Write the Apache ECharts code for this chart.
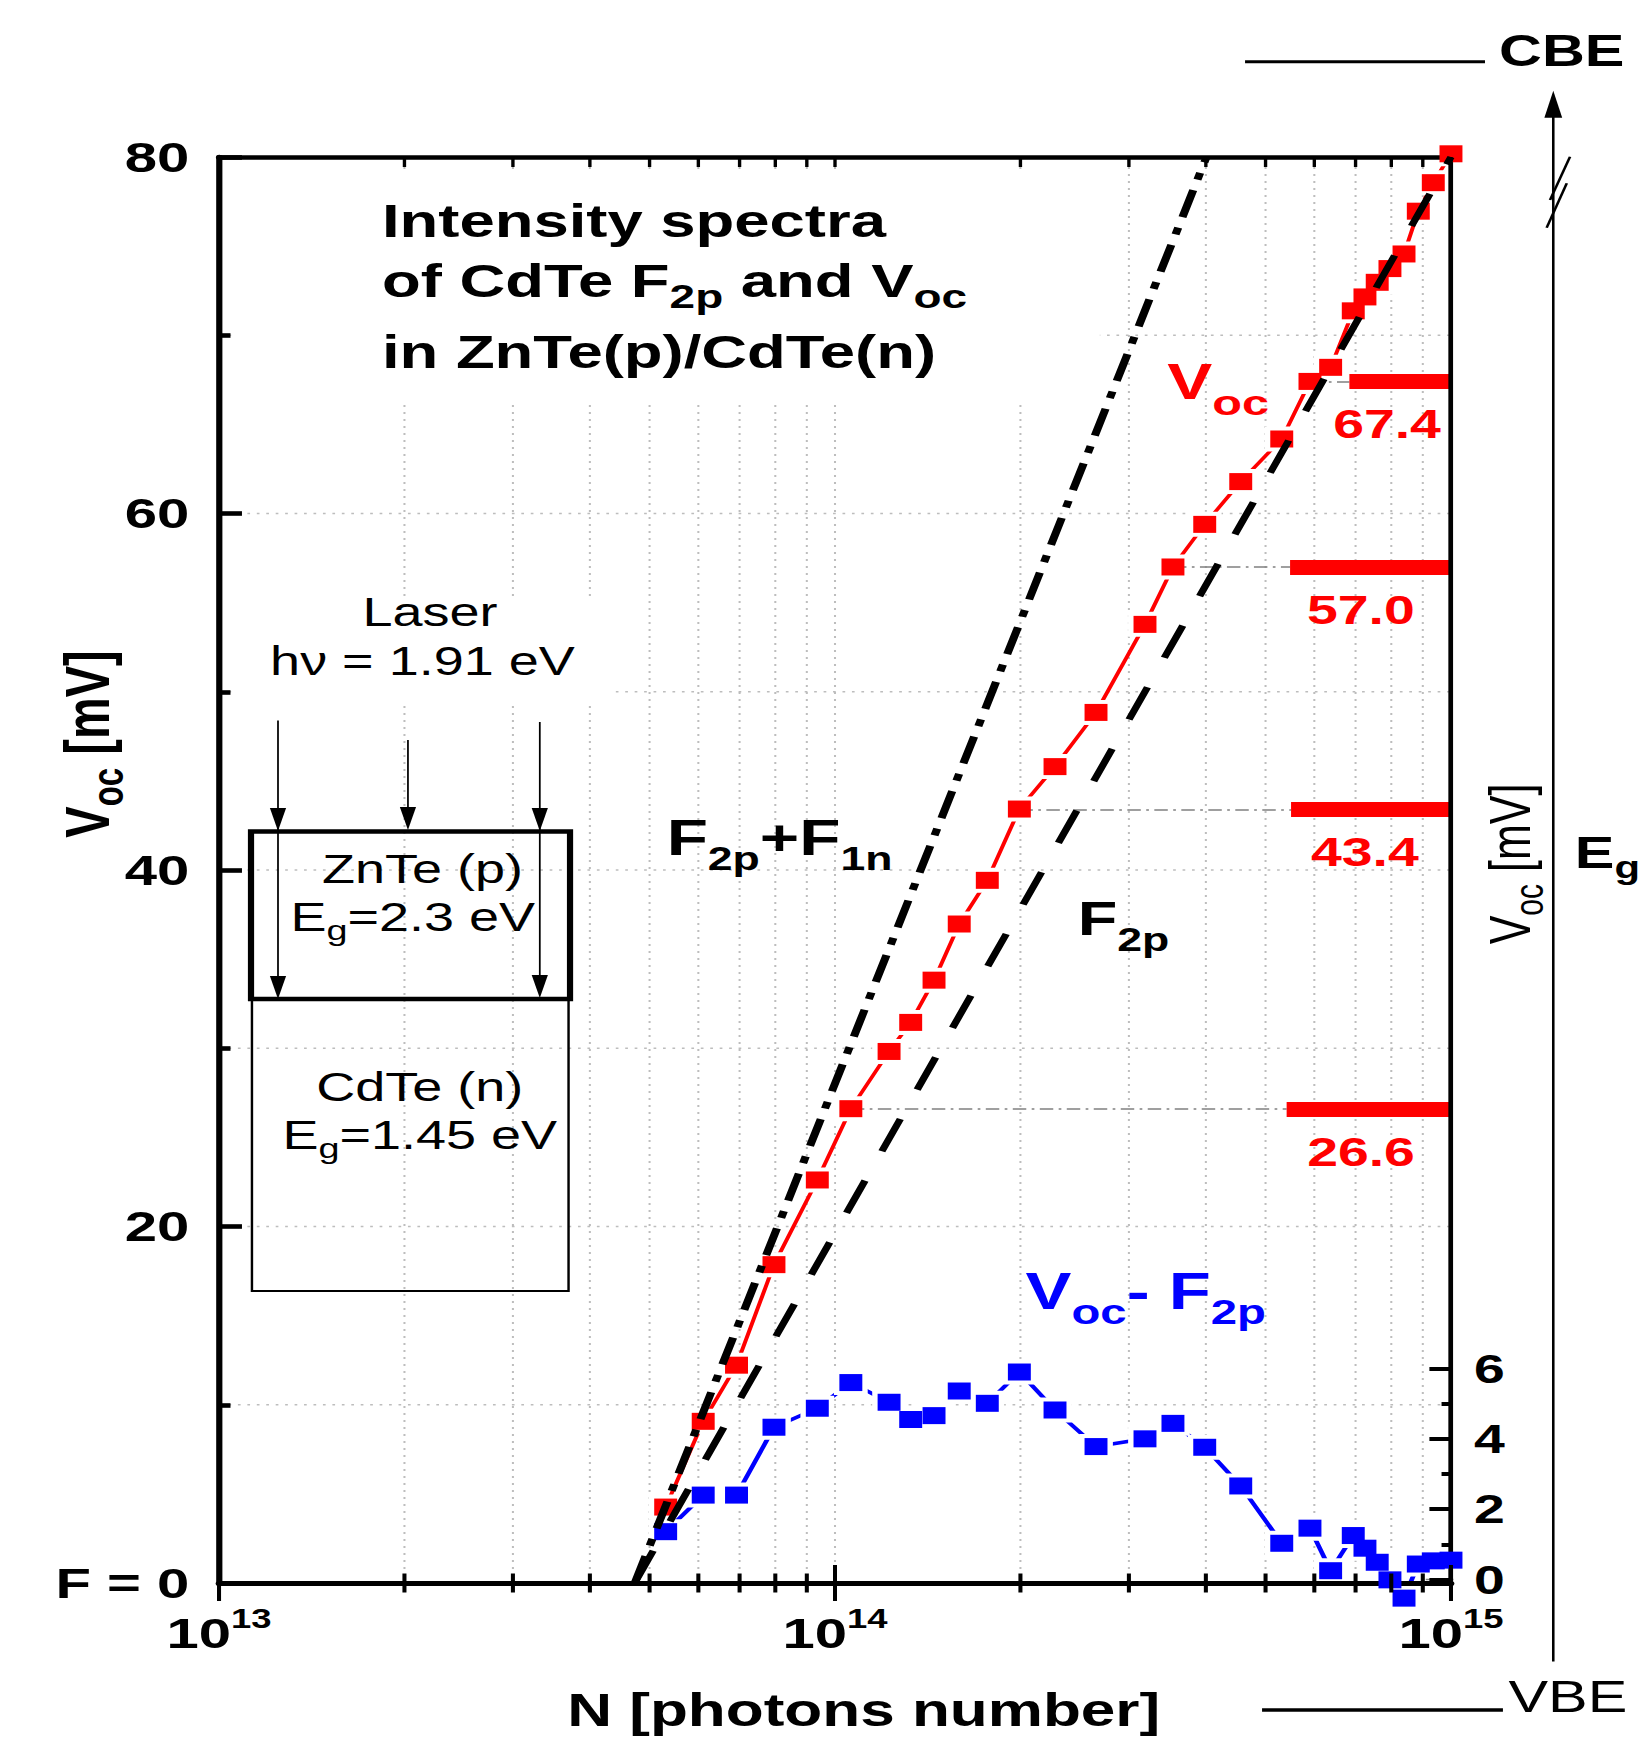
<!DOCTYPE html>
<html>
<head>
<meta charset="utf-8">
<script src="https://cdn.jsdelivr.net/npm/echarts@6/dist/echarts.min.js"></script>
<style>
  html, body { margin: 0; padding: 0; background: #fff; overflow: hidden; }
  /* the source figure is stretched sideways, so draw it narrow and widen it */
  #chart { width: 1216px; height: 1744px; transform: scaleX(1.3495); transform-origin: 0 0; }
</style>
</head>
<body>
<div id="chart"></div>
<script>
// photon number N [photons]
var N = [5.31e13, 6.11e13, 6.92e13, 7.96e13, 9.36e13, 1.061e14, 1.224e14, 1.327e14, 1.448e14, 1.591e14,
         1.767e14, 1.992e14, 2.276e14, 2.653e14, 3.186e14, 3.537e14, 3.983e14, 4.557e14, 5.312e14, 5.903e14,
         6.377e14, 6.94e14, 7.25e14, 7.59e14, 7.96e14, 8.39e14, 8.85e14, 9.36e14, 1.0e15];
// V_oc [mV], left axis
var voc = [4.26, 9.07, 12.22, 17.86, 22.61, 26.61, 29.82, 31.45, 33.82, 36.97,
           39.42, 43.42, 45.80, 48.84, 53.78, 57.00, 59.39, 61.79, 64.18, 67.41,
           68.20, 71.37, 72.15, 72.97, 73.74, 74.56, 76.96, 78.56, 80.18];
// V_oc - F2p [mV], right axis
var vocMinusF2p = [1.36, 2.40, 2.40, 4.33, 4.87, 5.60, 5.04, 4.55, 4.66, 5.36,
                   5.01, 5.90, 4.82, 3.78, 4.00, 4.44, 3.76, 2.66, 1.03, 1.46,
                   0.25, 1.25, 0.89, 0.49, -0.01, -0.53, 0.44, 0.53, 0.55];
// straight lines F2p and F2p+F1n (end points)
var f2pN = [4.73e13, 1e15], f2pV = [0, 80];
var f2pf1nN = [4.73e13, 4.01e14], f2pf1nV = [0, 80];
// marked V_oc levels
var levels = [67.4, 57.0, 43.4, 26.6];
var levelFromN = [5.903e14, 3.537e14, 1.992e14, 1.061e14];
var levelBarN = [6.84e14, 5.48e14, 5.50e14, 5.41e14];
// zero line of the right axis
var zeroN = [9.1e14, 1.4e15], zeroV = [0, 0];
// ticks and grid
var xMajor = [1e13, 1e14, 1e15];
var xMinor = [2e13, 3e13, 4e13, 5e13, 6e13, 7e13, 8e13, 9e13,
              2e14, 3e14, 4e14, 5e14, 6e14, 7e14, 8e14, 9e14];
var yGrid = [10, 20, 30, 40, 50, 60, 70];

// label shift from the bar start (px)
var levelLabelDx = [-12, 12.6, 14.8, 15.2];

var FONT = '"Liberation Sans", Arial, sans-serif';

function subRich(m, s, drop, color, weight) {
  var base = {fontFamily: FONT, fontWeight: weight, fill: color, color: color, verticalAlign: 'top'};
  return {
    n: Object.assign({}, base, {fontSize: m, lineHeight: m}),
    s: Object.assign({}, base, {fontSize: s, lineHeight: s, padding: [drop + 0.85 * (m - s), 0, 0, 0]})
  };
}
function supRich(m, s, rise, color, weight) {
  var base = {fontFamily: FONT, fontWeight: weight, fill: color, color: color, verticalAlign: 'top'};
  return {
    n: Object.assign({}, base, {fontSize: m, lineHeight: m, padding: [rise - 0.85 * (m - s), 0, 0, 0]}),
    s: Object.assign({}, base, {fontSize: s, lineHeight: s})
  };
}
function text(x, baseline, str, m, s, drop, color, weight, align) {
  return {type: 'text', x: x, y: baseline - 0.85 * m, z: 8, silent: true,
    style: {text: str, rich: subRich(m, s, drop, color, weight), align: align || 'left', verticalAlign: 'top'}};
}
function vtext(cx, cy, str, m, s, drop, weight) {
  return {type: 'text', x: cx, y: cy, rotation: Math.PI / 2, z: 8, silent: true,
    style: {text: str, rich: subRich(m, s, drop, '#000', weight), align: 'center', verticalAlign: 'middle'}};
}
function line(x1, y1, x2, y2, w) {
  return {type: 'line', z: 8, silent: true, shape: {x1: x1, y1: y1, x2: x2, y2: y2}, style: {stroke: '#000', lineWidth: w}};
}
// arrow head, len > 0 points down, len < 0 points up
function head(x, tipY, len, half) {
  return {type: 'polygon', z: 8, silent: true, shape: {points: [[x, tipY], [x - half, tipY - len], [x + half, tipY - len]]}, style: {fill: '#000'}};
}

var gridStyle = {stroke: '#bdbdbd', lineWidth: 1.5, lineDash: [2, 5]};

function renderXGrid(params, api) {
  var b = api.coord([api.value(0), 0]), t = api.coord([api.value(0), 80]);
  return {type: 'line', shape: {x1: b[0], y1: b[1], x2: t[0], y2: t[1]}, style: gridStyle};
}
function renderYGrid(params, api) {
  var l = api.coord([1e13, api.value(1)]), r = api.coord([1e15, api.value(1)]);
  return {type: 'line', shape: {x1: l[0], y1: l[1], x2: r[0], y2: r[1]}, style: gridStyle};
}
function renderXTick(params, api) {
  var b = api.coord([api.value(0), 0]), t = api.coord([api.value(0), 80]);
  var len = api.value(1) === 1 ? 18 : 9.5;
  return {type: 'group', children: [
    {type: 'line', shape: {x1: b[0], y1: b[1] - len, x2: b[0], y2: b[1] + len}, style: {stroke: '#000', lineWidth: 3}},
    {type: 'line', shape: {x1: t[0], y1: t[1], x2: t[0], y2: t[1] + 10}, style: {stroke: '#000', lineWidth: 2.5}}
  ]};
}

var chart = echarts.init(document.getElementById('chart'), null, {renderer: 'svg'});

var xTicks = xMajor.map(function (v) { return [v, 1]; }).concat(xMinor.map(function (v) { return [v, 0]; }));
var vocData = N.map(function (n, i) { return [n, voc[i]]; });
var diffData = N.map(function (n, i) { return [n, vocMinusF2p[i]]; });

var option = {
  animation: false,
  backgroundColor: '#fff',
  grid: [
    {left: 162.3, right: 140.8, top: 157, bottom: 161, outerBoundsMode: 'none'},
    {left: 162.3, right: 140.8, top: 1368.5, bottom: 164.5, outerBoundsMode: 'none'}
  ],
  xAxis: [
    {type: 'log', logBase: 10, gridIndex: 0, position: 'bottom', min: 1e13, max: 1e15, z: 7,
     axisLine: {onZero: false, lineStyle: {color: '#000', width: 5}},
     axisTick: {show: false}, splitLine: {show: false},
     axisLabel: {margin: 22, showMinLabel: true, showMaxLabel: true,
       formatter: function (v) { return '{n|10}{s|' + Math.round(Math.log10(v)) + '}'; },
       rich: supRich(43, 27, 20.5, '#000', 'bold')}},
    {type: 'log', logBase: 10, gridIndex: 0, position: 'top', min: 1e13, max: 1e15, z: 7,
     axisLine: {onZero: false, lineStyle: {color: '#000', width: 4.6}},
     axisTick: {show: false}, axisLabel: {show: false}, splitLine: {show: false}},
    {type: 'log', logBase: 10, gridIndex: 1, min: 1e13, max: 1e15, show: false}
  ],
  yAxis: [
    {type: 'value', gridIndex: 0, position: 'left', min: 0, max: 80, interval: 20, z: 7,
     axisLine: {show: true, onZero: false, lineStyle: {color: '#000', width: 4.6}},
     axisTick: {inside: true, length: 17, lineStyle: {color: '#000', width: 4.6}},
     minorTick: {show: true, splitNumber: 2, length: 8.5, lineStyle: {color: '#000', width: 4.6}},
     splitLine: {show: false},
     axisLabel: {margin: 22, fontSize: 43, fontWeight: 'bold', fontFamily: FONT, color: '#000',
       formatter: function (v) { return v === 0 ? 'F = 0' : String(v); }}},
    {type: 'value', gridIndex: 0, position: 'right', min: 0, max: 80, z: 7,
     axisLine: {show: true, onZero: false, lineStyle: {color: '#000', width: 3.5}},
     axisTick: {show: false}, axisLabel: {show: false}, splitLine: {show: false}},
    {type: 'value', gridIndex: 1, position: 'right', min: 0, max: 6, interval: 2, z: 7,
     axisLine: {show: false, onZero: false},
     axisTick: {inside: true, length: 16, lineStyle: {color: '#000', width: 4}},
     minorTick: {show: true, splitNumber: 2, length: 7, lineStyle: {color: '#000', width: 4}},
     splitLine: {show: false},
     axisLabel: {margin: 17, fontSize: 41, fontWeight: 'bold', fontFamily: FONT, color: '#000'}}
  ],
  series: [
    {type: 'custom', name: 'xgrid', xAxisIndex: 0, yAxisIndex: 0, z: 0, silent: true,
     data: xTicks, renderItem: renderXGrid},
    {type: 'custom', name: 'ygrid', xAxisIndex: 0, yAxisIndex: 0, z: 0, silent: true,
     data: yGrid.map(function (v) { return [1e13, v]; }), renderItem: renderYGrid},
    {type: 'custom', name: 'xticks', xAxisIndex: 0, yAxisIndex: 0, z: 10, silent: true,
     data: xTicks, renderItem: renderXTick},
    {type: 'line', name: 'Voc', xAxisIndex: 0, yAxisIndex: 0, z: 3, clip: false, silent: true,
     data: vocData, symbol: 'none', lineStyle: {color: '#ff0000', width: 3},
     markLine: {
       silent: true, symbol: ['none', 'none'], animation: false,
       data: levels.map(function (v, i) {
         return [{coord: [levelFromN[i], v], lineStyle: {color: '#808080', width: 1.5, type: [10, 4, 2, 4]}, label: {show: false}},
                 {coord: [levelBarN[i], v]}];
       }).concat(levels.map(function (v, i) {
         return [{coord: [levelBarN[i], v], lineStyle: {color: '#ff0000', width: 15, type: 'solid'},
                  label: {show: true, position: 'insideStartBottom', distance: [levelLabelDx[i], 22], formatter: v.toFixed(1),
                          color: '#ff0000', fontSize: 41, fontWeight: 'bold', fontFamily: FONT}},
                 {coord: [1e15, v]}];
       }))
     }},
    {type: 'scatter', name: 'Voc halo', xAxisIndex: 0, yAxisIndex: 0, z: 4, clip: false, silent: true,
     data: vocData, symbol: 'rect', symbolSize: 25, itemStyle: {color: '#fff', opacity: 1}},
    {type: 'line', name: 'Voc-F2p', xAxisIndex: 2, yAxisIndex: 2, z: 5, clip: false, silent: true,
     data: diffData, symbol: 'none', lineStyle: {color: '#0000ff', width: 3.5}},
    {type: 'line', name: 'zero', xAxisIndex: 2, yAxisIndex: 2, z: 5, clip: false, silent: true,
     data: zeroN.map(function (n, i) { return [n, zeroV[i]]; }), symbol: 'none',
     lineStyle: {color: '#808080', width: 1.5, type: [10, 4, 2, 4]}},
    {type: 'scatter', name: 'Voc-F2p halo', xAxisIndex: 2, yAxisIndex: 2, z: 6, clip: false, silent: true,
     data: diffData, symbol: 'rect', symbolSize: 25, itemStyle: {color: '#fff', opacity: 1}},
    {type: 'scatter', name: 'Voc marks', xAxisIndex: 0, yAxisIndex: 0, z: 8, clip: false, silent: true,
     data: vocData, symbol: 'rect', symbolSize: 17, itemStyle: {color: '#ff0000', opacity: 1}},
    {type: 'scatter', name: 'Voc-F2p marks', xAxisIndex: 2, yAxisIndex: 2, z: 8, clip: false, silent: true,
     data: diffData, symbol: 'rect', symbolSize: 17, itemStyle: {color: '#0000ff', opacity: 1}},
    {type: 'line', name: 'F2p', xAxisIndex: 0, yAxisIndex: 0, z: 9, clip: false, silent: true,
     data: f2pN.map(function (n, i) { return [n, f2pV[i]]; }), symbol: 'none',
     lineStyle: {color: '#000', width: 5.5, type: [35, 32]}},
    {type: 'line', name: 'F2p+F1n', xAxisIndex: 0, yAxisIndex: 0, z: 9, clip: false, silent: true,
     data: f2pf1nN.map(function (n, i) { return [n, f2pf1nV[i]]; }), symbol: 'none',
     lineStyle: {color: '#000', width: 6, type: [28, 11, 7, 11]}}
  ],
  graphic: {elements: [
    // white areas behind the text blocks
    {type: 'rect', z: 1, silent: true, shape: {x: 172, y: 170, width: 643, height: 232}, style: {fill: '#fff'}},
    {type: 'rect', z: 1, silent: true, shape: {x: 172, y: 598, width: 284, height: 104}, style: {fill: '#fff'}},
    // title
    text(283, 237, '{n|Intensity spectra}', 47, 34, 11, '#000', 'bold'),
    text(283, 297, '{n|of CdTe F}{s|2p}{n| and V}{s|oc}', 47, 34, 11, '#000', 'bold'),
    text(283, 368.5, '{n|in ZnTe(p)/CdTe(n)}', 47, 34, 11, '#000', 'bold'),
    // curve names
    text(865, 399.4, '{n|V}{s|oc}', 50, 36, 16, '#ff0000', 'bold'),
    text(494, 855, '{n|F}{s|2p}{n|+F}{s|1n}', 50, 33, 15, '#000', 'bold'),
    text(798.6, 935, '{n|F}{s|2p}', 48, 33, 16, '#000', 'bold'),
    text(760, 1309.3, '{n|V}{s|oc}{n|- F}{s|2p}', 51, 35, 15, '#0000ff', 'bold'),
    // sample sketch
    {type: 'rect', z: 8, silent: true, shape: {x: 186.7, y: 999, width: 234.6, height: 292}, style: {fill: 'none', stroke: '#000', lineWidth: 1.8}},
    {type: 'rect', z: 8, silent: true, shape: {x: 186, y: 831.5, width: 236.4, height: 167.5}, style: {fill: 'none', stroke: '#000', lineWidth: 4.6}},
    line(206, 720.5, 206, 985, 1.3), head(206, 831, 23, 6), head(206, 999, 23, 6),
    line(302.3, 740, 302.3, 815, 1.3), head(302.3, 830, 23, 6),
    line(400, 722, 400, 985, 1.3), head(400, 831, 23, 6), head(400, 998, 23, 6),
    text(318.6, 626, '{n|Laser}', 40, 28, 9, '#000', 'normal', 'center'),
    text(313, 674.6, '{n|h\u03bd = 1.91 eV}', 40, 28, 9, '#000', 'normal', 'center'),
    text(313, 883, '{n|ZnTe (p)}', 40, 28, 9, '#000', 'normal', 'center'),
    text(305.8, 931, '{n|E}{s|g}{n|=2.3 eV}', 40, 28, 9, '#000', 'normal', 'center'),
    text(311, 1101, '{n|CdTe (n)}', 40, 28, 9, '#000', 'normal', 'center'),
    text(311, 1149, '{n|E}{s|g}{n|=1.45 eV}', 40, 28, 9, '#000', 'normal', 'center'),
    // right axis title
    vtext(1119, 864, '{n|V}{s|oc}{n| [mV]}', 43, 30, 10, 'normal'),
    // left axis title
    vtext(64, 744, '{n|V}{s|oc}{n| [mV]}', 47, 33, 11, 'bold'),
    // band edges and energy axis
    line(922.6, 61.7, 1100.4, 61.7, 3),
    text(1110.8, 66.7, '{n|CBE}', 44, 31, 10, '#000', 'bold'),
    line(935.2, 1710, 1113.7, 1710, 3.5),
    text(1117.8, 1711.8, '{n|VBE}', 44, 31, 10, '#000', 'normal'),
    line(1151, 112, 1151, 1661.5, 1.9), head(1151, 90.7, -27, 6.6),
    line(1163.4, 156.7, 1148.6, 200, 2), line(1161, 183.3, 1146.1, 227.7, 2),
    text(1167, 868, '{n|E}{s|g}', 44, 31, 10, '#000', 'bold'),
    // x axis title
    text(640, 1727, '{n|N [photons number]}', 46, 32, 10, '#000', 'bold', 'center')
  ]}
};
chart.setOption(option);
</script>
</body>
</html>
